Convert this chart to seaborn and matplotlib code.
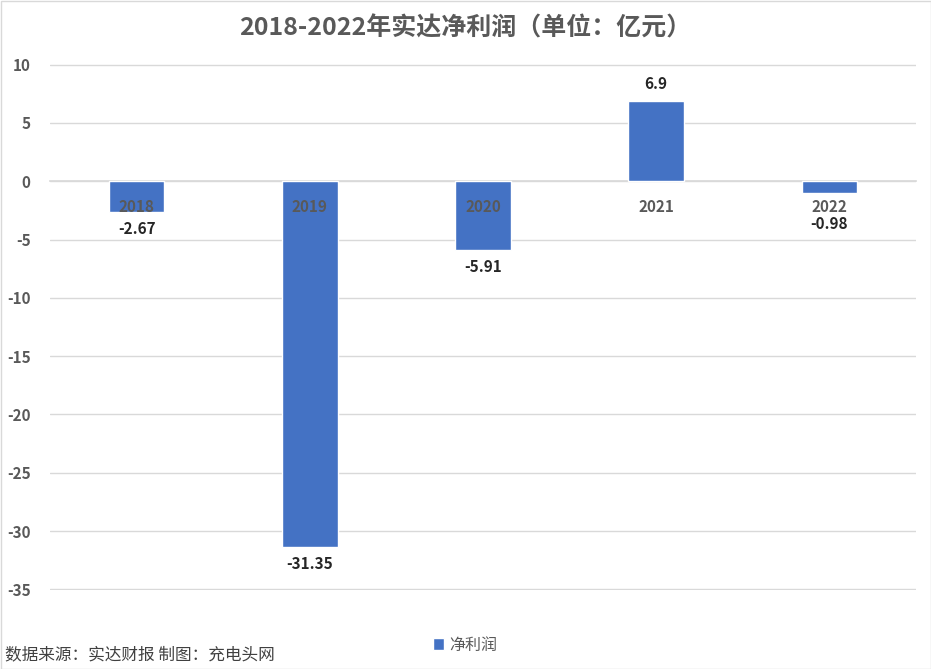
import matplotlib
matplotlib.use("Agg")
import matplotlib.pyplot as plt
import seaborn as sns
import pandas as pd
from matplotlib.patches import Rectangle

years = ["2018", "2019", "2020", "2021", "2022"]
profit = [-2.67, -31.35, -5.91, 6.9, -0.98]
yticks = [10, 5, 0, -5, -10, -15, -20, -25, -30, -35]
title = "2018-2022年实达净利润（单位：亿元）"
series_name = "净利润"
source = "数据来源：实达财报 制图：充电头网"

sns.set_theme(style="white")
plt.rcParams['font.family'] = ['Noto Sans CJK SC', 'DejaVu Sans']

df = pd.DataFrame({"year": years, "profit": profit})
blue = "#4472C4"
gray = "#595959"

fig = plt.figure(figsize=(9.31, 6.69), dpi=100)
ax = fig.add_axes([50/931, 79/669, 866/931, 526/669])

sns.barplot(data=df, x="year", y="profit", color=blue, width=0.32,
            saturation=1, ax=ax, label=series_name)

ax.set_ylim(-35.05, 10.05)
ax.set_yticks(yticks)
ax.set_xlim(-0.5, len(years) - 0.5)
ax.grid(axis="y", color="#d9d9d9", linewidth=1)
ax.set_axisbelow(True)
ax.xaxis.set_zorder(5)
for s in ["left", "right", "top"]:
    ax.spines[s].set_visible(False)
ax.spines["bottom"].set_position(("data", 0))
ax.spines["bottom"].set_color("#d9d9d9")
ax.spines["bottom"].set_zorder(0.5)
ax.set_xlabel("")
ax.set_ylabel("")
ax.tick_params(axis="y", length=0, pad=14, labelsize=11, labelcolor=gray)
ax.tick_params(axis="x", length=0, pad=13, labelsize=11, labelcolor=gray)
for t in ax.get_yticklabels() + ax.get_xticklabels():
    t.set_fontweight("bold")
ax.set_yticklabels([str(v) for v in yticks])

pads = [10, 10, 10, 10, 24]
for bar, v, p in zip(ax.patches, profit, pads):
    x = bar.get_x() + bar.get_width() / 2
    off = p + 7 if v >= 0 else -(p + 7)
    ax.annotate(f"{v:g}", (x, v), xytext=(0, off), textcoords="offset pixels",
                ha="center", va="center", fontsize=11, fontweight="bold",
                color="#262626")

fig.text(0.5, 1 - 28/669, title, ha="center", va="center", fontsize=18,
         fontweight="bold", color=gray)

leg = ax.legend(loc="center", bbox_to_anchor=(465/931, 1 - 645/669),
                bbox_transform=fig.transFigure, frameon=False, fontsize=11.5,
                handlelength=0.7, handleheight=0.7, handletextpad=0.3)
for t in leg.get_texts():
    t.set_color(gray)

fig.text(5/931, 1 - 655/669, source, ha="left", va="center", fontsize=12,
         color="#404040")

fig.patches.append(Rectangle((0.5/931, 0.5/669), 1 - 1/931, 1 - 1/669,
                             transform=fig.transFigure, fill=False,
                             edgecolor="#d9d9d9", linewidth=1))

fig.savefig("out.png", dpi=100)
